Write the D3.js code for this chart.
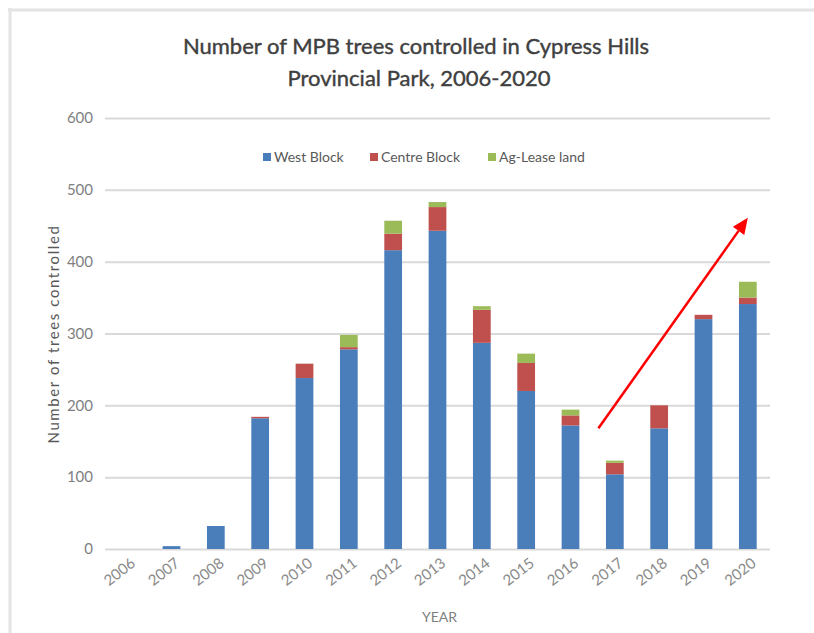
<!DOCTYPE html>
<html>
<head>
<meta charset="utf-8">
<script src="https://cdn.jsdelivr.net/npm/d3@7/dist/d3.min.js"></script>
<style>
  html, body { margin: 0; padding: 0; background: #fff; }
  svg { display: block; font-family: Lato, "Open Sans", sans-serif; }
</style>
</head>
<body>
<svg id="chart" width="814" height="633"></svg>
<script>
// Trees controlled per year, by area
const years = ["2006","2007","2008","2009","2010","2011","2012","2013","2014","2015","2016","2017","2018","2019","2020"];
const westBlock   = [0, 4, 32, 182, 238, 278, 416, 443, 287, 220, 172, 104, 168, 320, 341];
const centreBlock = [0, 0, 0, 2, 20, 3, 23, 33, 46, 39, 14, 16, 32, 6, 9];
const agLease     = [0, 0, 0, 0, 0, 17, 18, 7, 5, 13, 8, 3, 0, 0, 22];
const seriesNames = ["West Block", "Centre Block", "Ag-Lease land"];
const seriesColors = ["#4a7ebb", "#c0504d", "#9bbb59"];
const yTicks = [0, 100, 200, 300, 400, 500, 600];
// Trend arrow: [year, offset in band steps, value]
const trendFrom = ["2016", 0.63, 168];
const trendTo   = ["2020", 0, 461];

const svg = d3.select("#chart");
const W = 814, H = 633;
const plot = { left: 105, right: 770, top: 118, bottom: 549 };

svg.append("rect").attr("width", W).attr("height", H).attr("fill", "#fff");

// outer frame (top and left edges)
svg.append("line").attr("x1", 8).attr("x2", W).attr("y1", 10).attr("y2", 10)
  .attr("stroke", "#e4e4e4").attr("stroke-width", 3);
svg.append("line").attr("x1", 10).attr("x2", 10).attr("y1", 8).attr("y2", H)
  .attr("stroke", "#e4e4e4").attr("stroke-width", 3);

const x = d3.scaleBand().domain(years).range([plot.left, plot.right])
  .paddingInner(0.6).paddingOuter(0.3);
const y = d3.scaleLinear().domain([0, 600]).range([plot.bottom, plot.top]);

// gridlines
const grid = svg.append("g").attr("transform", `translate(${plot.left},0)`)
  .call(d3.axisLeft(y).tickValues(yTicks).tickSize(-(plot.right - plot.left)).tickFormat(""));
grid.select(".domain").remove();
grid.selectAll(".tick line").attr("stroke", "#d9d9d9").attr("stroke-width", 2);

// y axis labels
const yAxis = svg.append("g").attr("transform", `translate(${plot.left},0)`)
  .call(d3.axisLeft(y).tickValues(yTicks).tickSize(0).tickPadding(12));
yAxis.select(".domain").remove();
yAxis.selectAll("text").attr("fill", "#7f7f7f").style("font-size", "15px")
  .style("font-family", "Lato, sans-serif");

// x axis labels
const xAxis = svg.append("g").attr("transform", `translate(0,${plot.bottom})`)
  .call(d3.axisBottom(x).tickSize(0).tickPadding(0));
xAxis.select(".domain").remove();
xAxis.selectAll("text")
  .attr("fill", "#8a8a8a").style("font-size", "15px").style("font-family", "Lato, sans-serif")
  .attr("text-anchor", "end")
  .attr("transform", "translate(6,12) rotate(-38)")
  .attr("dy", "0.35em").attr("y", 0);

// stacked bars
const rows = years.map((yr, i) => ({ year: yr, w: westBlock[i], c: centreBlock[i], a: agLease[i] }));
const stack = d3.stack().keys(["w", "c", "a"])(rows);
svg.append("g").selectAll("g").data(stack).join("g")
  .attr("fill", (d, i) => seriesColors[i])
  .selectAll("rect").data(d => d).join("rect")
  .attr("x", d => x(d.data.year))
  .attr("width", x.bandwidth())
  .attr("y", d => y(d[1]))
  .attr("height", d => y(d[0]) - y(d[1]));

// title
const title = svg.append("text").attr("text-anchor", "middle")
  .attr("fill", "#404040").attr("stroke", "#404040").attr("stroke-width", 0.4)
  .style("font-size", "22px");
title.append("tspan").attr("x", 416).attr("y", 54).text("Number of MPB trees controlled in Cypress Hills");
title.append("tspan").attr("x", 419).attr("y", 86).text("Provincial Park, 2006-2020");

// legend
const legendX = [263, 370, 488];
const legend = svg.append("g").selectAll("g").data(seriesNames).join("g")
  .attr("transform", (d, i) => `translate(${legendX[i]},157)`);
legend.append("rect").attr("x", 0).attr("y", -4).attr("width", 8).attr("height", 8)
  .attr("fill", (d, i) => seriesColors[i]);
legend.append("text").attr("x", 11).attr("y", 0).attr("dy", "0.35em")
  .attr("fill", "#595959").style("font-size", "14px").text(d => d);

// axis titles
svg.append("text").attr("transform", "translate(59,334) rotate(-90)")
  .attr("text-anchor", "middle").attr("fill", "#595959").style("font-size", "15px")
  .style("letter-spacing", "1.6px")
  .text("Number of trees controlled");
svg.append("text").attr("x", (plot.left + plot.right) / 2 + 2).attr("y", 622)
  .attr("text-anchor", "middle").attr("fill", "#7f7f7f").style("font-size", "14px")
  .text("YEAR");

// trend arrow
const px = p => x(p[0]) + x.bandwidth() / 2 + p[1] * x.step();
const x1 = px(trendFrom), y1 = y(trendFrom[2]);
const x2 = px(trendTo), y2 = y(trendTo[2]);
const ang = Math.atan2(y2 - y1, x2 - x1);
const headLen = 16, headHalf = 7;
const bx = x2 - headLen * Math.cos(ang), by = y2 - headLen * Math.sin(ang);
svg.append("line").attr("x1", x1).attr("y1", y1).attr("x2", bx).attr("y2", by)
  .attr("stroke", "#ff0000").attr("stroke-width", 2.5);
svg.append("path")
  .attr("d", d3.line()([
    [x2, y2],
    [bx + headHalf * Math.sin(ang), by - headHalf * Math.cos(ang)],
    [bx - headHalf * Math.sin(ang), by + headHalf * Math.cos(ang)]
  ]) + "Z")
  .attr("fill", "#ff0000");
</script>
</body>
</html>
